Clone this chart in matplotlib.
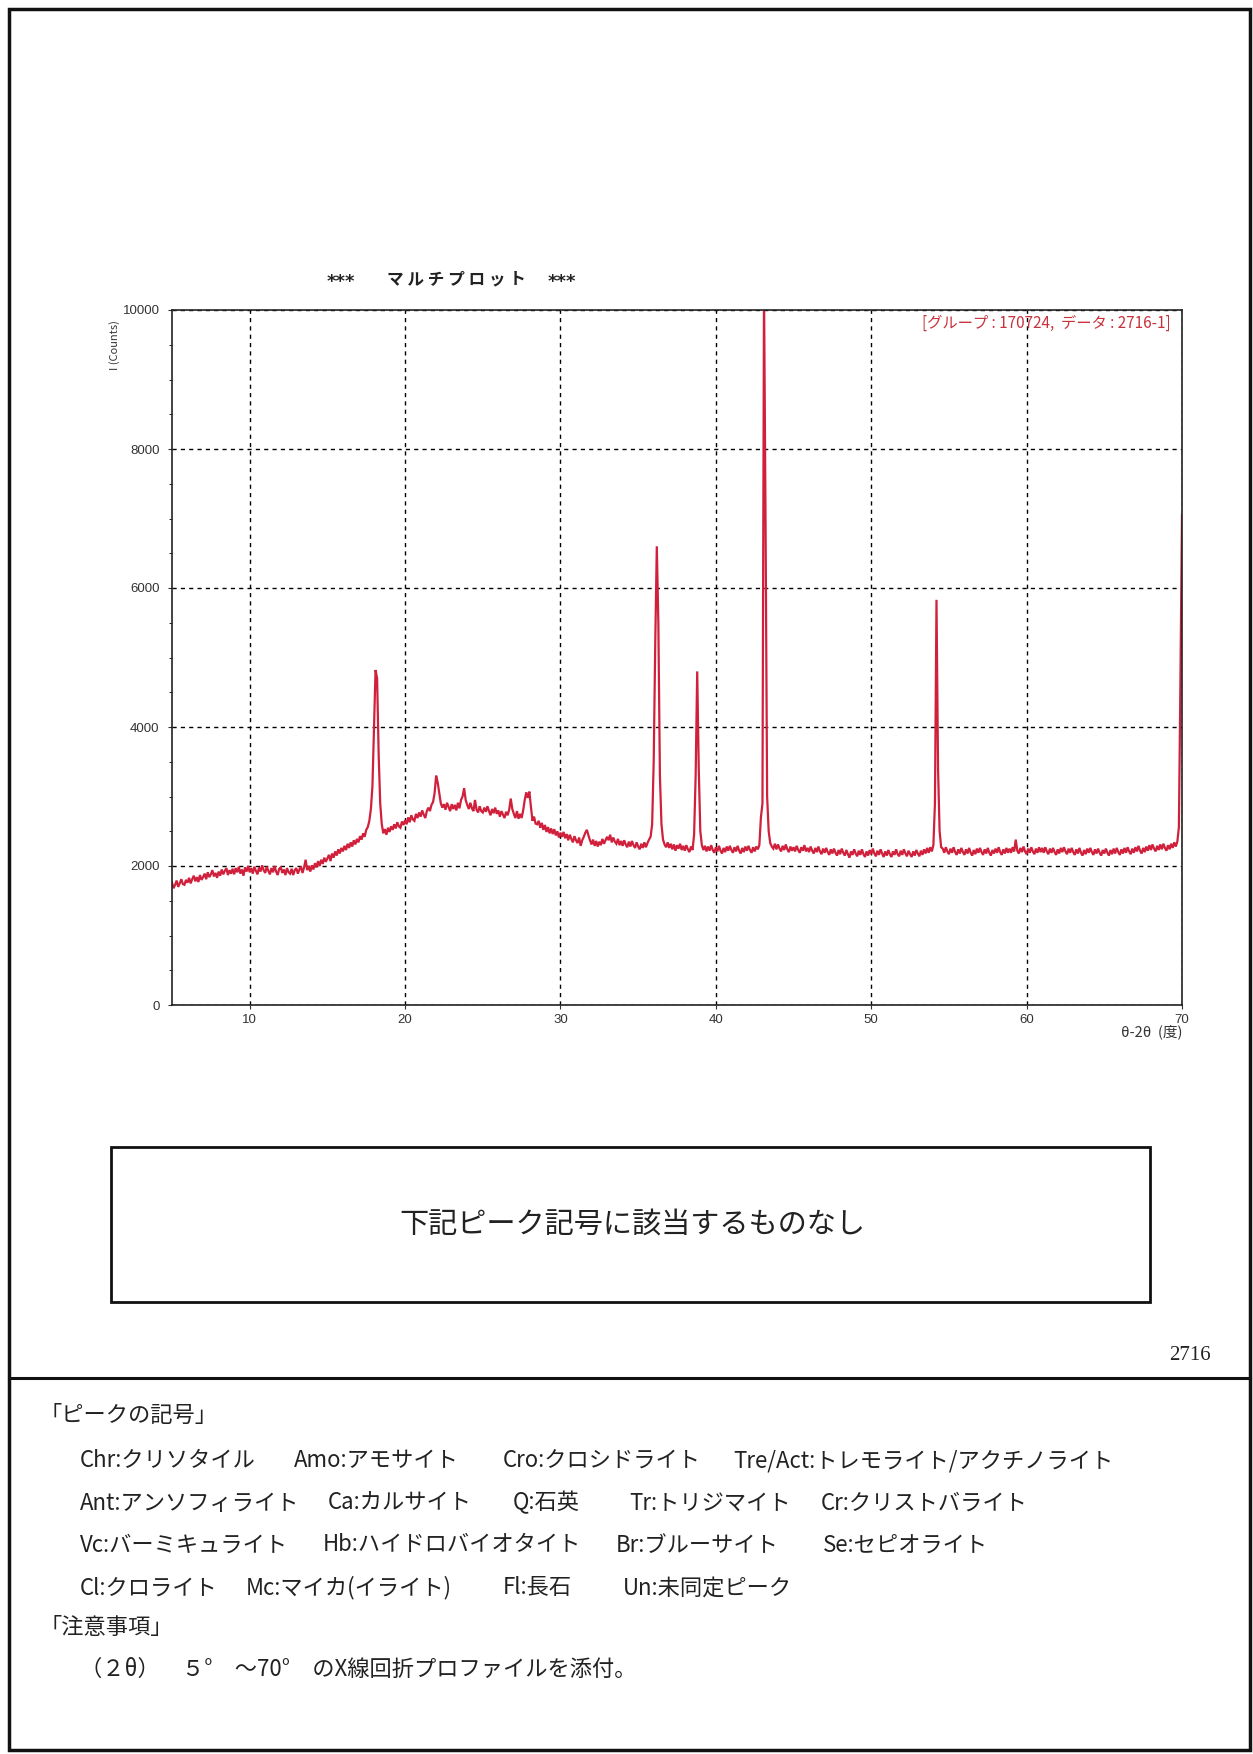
import numpy as np
import matplotlib
matplotlib.use("Agg")
import matplotlib.pyplot as plt
from matplotlib.patches import Rectangle
from matplotlib.lines import Line2D
from matplotlib.ticker import MultipleLocator

plt.rcParams['font.family'] = ['Noto Sans CJK JP', 'DejaVu Sans']

W, H = 1253, 1754

# scan: 5.0 .. 70.0 deg, 0.1 deg step, one row per degree
two_theta_start = 5.0
two_theta_step = 0.1
counts_rows = [
    [1760, 1680, 1730, 1790, 1700, 1750, 1810, 1740, 1730, 1800],  # 5
    [1760, 1830, 1750, 1810, 1860, 1780, 1840, 1770, 1870, 1800],
    [1840, 1890, 1810, 1910, 1840, 1880, 1940, 1850, 1900, 1830],
    [1920, 1860, 1950, 1880, 1930, 1970, 1870, 1940, 1890, 1960],
    [1880, 1970, 1910, 1990, 1890, 1950, 1860, 1980, 1920, 2000],
    [1910, 1970, 1890, 1990, 1930, 1880, 1980, 1920, 2010, 1940],  # 10
    [1900, 1990, 1930, 1880, 1970, 1910, 2000, 1920, 1870, 1960],
    [1980, 1900, 1950, 1870, 1970, 1910, 1890, 1960, 1870, 1940],
    [1970, 1890, 1950, 1990, 1900, 1980, 2090, 1940, 2000, 1920],
    [2010, 1950, 2040, 1980, 2070, 2000, 2090, 2030, 2120, 2060],
    [2110, 2160, 2070, 2180, 2120, 2210, 2150, 2240, 2180, 2260],  # 15
    [2210, 2290, 2230, 2320, 2260, 2340, 2280, 2370, 2310, 2390],
    [2340, 2430, 2380, 2470, 2420, 2520, 2560, 2650, 2820, 3150],
    [4000, 4820, 4700, 3600, 2900, 2600, 2470, 2530, 2450, 2550],
    [2490, 2570, 2520, 2600, 2540, 2630, 2570, 2550, 2640, 2590],
    [2660, 2600, 2700, 2630, 2730, 2670, 2650, 2750, 2690, 2770],  # 20
    [2710, 2800, 2740, 2690, 2790, 2840, 2790, 2880, 2920, 3050],
    [3300, 3200, 3050, 2900, 2840, 2890, 2810, 2910, 2850, 2790],
    [2890, 2820, 2880, 2800, 2910, 2830, 2950, 3000, 3120, 2950],
    [2880, 2820, 2910, 2830, 2790, 2950, 2810, 2770, 2860, 2790],
    [2770, 2840, 2780, 2860, 2790, 2730, 2820, 2760, 2840, 2750],  # 25
    [2800, 2710, 2790, 2740, 2690, 2780, 2730, 2810, 2970, 2820],
    [2750, 2690, 2790, 2680, 2750, 2690, 2800, 2950, 3060, 2980],
    [3070, 2850, 2650, 2710, 2610, 2600, 2650, 2550, 2620, 2520],
    [2590, 2490, 2560, 2470, 2540, 2460, 2530, 2440, 2500, 2410],
    [2480, 2420, 2490, 2400, 2460, 2370, 2450, 2390, 2340, 2430],  # 30
    [2370, 2330, 2410, 2290, 2370, 2420, 2480, 2520, 2440, 2370],
    [2310, 2380, 2290, 2360, 2280, 2350, 2300, 2390, 2320, 2370],
    [2420, 2370, 2450, 2340, 2410, 2350, 2320, 2390, 2300, 2360],
    [2290, 2370, 2310, 2270, 2350, 2280, 2360, 2300, 2260, 2340],
    [2280, 2240, 2320, 2260, 2340, 2270, 2330, 2380, 2420, 2600],  # 35
    [3500, 5200, 6600, 5500, 3300, 2600, 2380, 2310, 2270, 2340],
    [2260, 2320, 2240, 2310, 2220, 2300, 2250, 2320, 2230, 2290],
    [2220, 2300, 2240, 2200, 2280, 2230, 2450, 3300, 4800, 3400],
    [2500, 2300, 2230, 2290, 2210, 2280, 2220, 2300, 2230, 2190],
    [2270, 2210, 2290, 2220, 2180, 2260, 2200, 2280, 2220, 2290],  # 40
    [2230, 2190, 2270, 2210, 2290, 2220, 2180, 2260, 2200, 2280],
    [2220, 2290, 2230, 2190, 2270, 2210, 2280, 2240, 2300, 2700],
    [2900, 10300, 6900, 3000, 2500, 2330, 2280, 2250, 2320, 2240],
    [2310, 2250, 2210, 2290, 2230, 2310, 2240, 2200, 2280, 2220],
    [2270, 2210, 2290, 2230, 2190, 2270, 2220, 2300, 2210, 2260],  # 45
    [2200, 2280, 2220, 2180, 2260, 2200, 2280, 2210, 2170, 2250],
    [2190, 2260, 2200, 2160, 2240, 2180, 2250, 2190, 2150, 2230],
    [2170, 2250, 2190, 2150, 2230, 2170, 2120, 2210, 2160, 2240],
    [2180, 2140, 2220, 2160, 2240, 2170, 2130, 2210, 2150, 2230],
    [2170, 2250, 2180, 2140, 2220, 2160, 2240, 2180, 2130, 2210],  # 50
    [2150, 2230, 2170, 2130, 2210, 2160, 2240, 2170, 2140, 2220],
    [2160, 2240, 2180, 2140, 2220, 2170, 2130, 2210, 2150, 2230],
    [2180, 2140, 2220, 2160, 2240, 2180, 2260, 2190, 2270, 2210],
    [2300, 2900, 5830, 3400, 2500, 2270, 2250, 2190, 2270, 2210],
    [2170, 2250, 2190, 2270, 2200, 2160, 2240, 2180, 2260, 2200],  # 55
    [2160, 2240, 2180, 2260, 2190, 2150, 2230, 2170, 2250, 2190],
    [2260, 2200, 2160, 2240, 2180, 2260, 2190, 2150, 2230, 2180],
    [2250, 2190, 2270, 2200, 2160, 2240, 2180, 2260, 2190, 2250],
    [2190, 2270, 2210, 2380, 2220, 2180, 2260, 2200, 2280, 2210],
    [2170, 2250, 2190, 2270, 2210, 2170, 2250, 2190, 2270, 2200],  # 60
    [2260, 2190, 2270, 2210, 2170, 2250, 2190, 2260, 2200, 2160],
    [2240, 2180, 2260, 2200, 2270, 2210, 2170, 2250, 2190, 2260],
    [2200, 2160, 2240, 2180, 2260, 2190, 2150, 2230, 2170, 2250],
    [2190, 2260, 2200, 2160, 2240, 2180, 2250, 2190, 2150, 2230],
    [2180, 2250, 2190, 2150, 2230, 2170, 2250, 2180, 2260, 2200],  # 65
    [2160, 2240, 2180, 2260, 2190, 2270, 2210, 2170, 2250, 2190],
    [2270, 2210, 2290, 2220, 2180, 2260, 2200, 2280, 2220, 2300],
    [2230, 2310, 2250, 2210, 2290, 2230, 2310, 2240, 2320, 2260],
    [2220, 2300, 2240, 2320, 2260, 2340, 2280, 2350, 2560, 4700],
]
counts_last = [7050]  # 70.0

x_ticks = [10, 20, 30, 40, 50, 60, 70]
y_ticks = [0, 2000, 4000, 6000, 8000, 10000]

title_text = "マ ル チ プ ロ ッ ト"
legend_text = "[グループ : 170724,  データ : 2716-1]"
result_text = "下記ピーク記号に該当するものなし"
page_no = "2716"
peak_rows = [
    ["Chr:クリソタイル", "Amo:アモサイト", "Cro:クロシドライト", "Tre/Act:トレモライト/アクチノライト"],
    ["Ant:アンソフィライト", "Ca:カルサイト", "Q:石英", "Tr:トリジマイト", "Cr:クリストバライト"],
    ["Vc:バーミキュライト", "Hb:ハイドロバイオタイト", "Br:ブルーサイト", "Se:セピオライト"],
    ["Cl:クロライト", "Mc:マイカ(イライト)", "Fl:長石", "Un:未同定ピーク"],
]
note_text = "（２θ）　５°　～70°　のX線回折プロファイルを添付。"

counts = np.array([v for row in counts_rows for v in row] + counts_last, dtype=float)
two_theta = np.round(two_theta_start + two_theta_step * np.arange(len(counts)), 2)


def fx(px):
    return px / W


def fy(py):
    return 1 - py / H


fig = plt.figure(figsize=(W / 100, H / 100), dpi=100)
fig.patch.set_facecolor('white')

# page frame and separator
fig.add_artist(Rectangle((fx(9), fy(1750)), fx(1250) - fx(9), fy(9) - fy(1750),
                         transform=fig.transFigure, fill=False, lw=2.5, ec='#111111'))
fig.add_artist(Line2D([fx(9), fx(1250)], [fy(1378), fy(1378)],
                      transform=fig.transFigure, lw=2.2, color='#111111'))

# main chart
ax_l, ax_r, ax_t, ax_b = 172, 1182, 310, 1005
ax = fig.add_axes([fx(ax_l), fy(ax_b), fx(ax_r) - fx(ax_l), fy(ax_t) - fy(ax_b)])
ax.plot(two_theta, counts, color='#d0203c', lw=1.6, solid_joinstyle='miter')
ax.set_xlim(5, 70)
ax.set_ylim(0, 10000)
ax.set_xticks(x_ticks)
ax.set_yticks(y_ticks)
ax.yaxis.set_minor_locator(MultipleLocator(500))
ax.grid(True, color='black', ls=(0, (3, 3)), lw=1.0)
for s in ax.spines.values():
    s.set_color('#222222')
    s.set_linewidth(1.2)
ax.tick_params(axis='both', labelsize=9.5, colors='#333333', length=3, width=0.8,
               direction='out')
ax.tick_params(axis='y', pad=6)
ax.tick_params(axis='y', which='minor', length=2, width=0.6)
for lab in ax.get_xticklabels() + ax.get_yticklabels():
    lab.set_family('Liberation Sans')

fig.text(fx(1152), fy(1032), "θ-2θ  (度)", ha='center', va='center', fontsize=10.5,
         color='#333333')
ax.text(0.989, 0.993, legend_text, transform=ax.transAxes, ha='right', va='top',
        fontsize=11, color='#c8323c')

fig.text(fx(115), fy(345), "I (Counts)", rotation=90, ha='center', va='center',
         fontsize=8, color='#333333')
# title
fig.text(fx(341), fy(282), "***", ha='center', va='center', fontsize=13,
         fontweight='bold', family='DejaVu Sans', color='#222222')
fig.text(fx(456), fy(279), title_text, ha='center', va='center', fontsize=12,
         fontweight='bold', color='#222222')
fig.text(fx(562), fy(282), "***", ha='center', va='center', fontsize=13,
         fontweight='bold', family='DejaVu Sans', color='#222222')

# result box
fig.add_artist(Rectangle((fx(111), fy(1302)), fx(1150) - fx(111), fy(1147) - fy(1302),
                         transform=fig.transFigure, fill=False, lw=2.0, ec='#111111'))
fig.text(fx(632), fy(1225), result_text, ha='center', va='center', fontsize=21,
         color='#222222')
fig.text(fx(1211), fy(1356), page_no, ha='right', va='center', fontsize=15,
         family='Liberation Serif', color='#222222')

# peak symbol legend
row_x = [
    [80, 294, 503, 733],
    [80, 328, 513, 629, 821],
    [80, 323, 616, 823],
    [80, 246, 503, 623],
]
row_y = [1461, 1503, 1545, 1588]
fig.text(fx(40), fy(1415), "「ピークの記号」", ha='left', va='center', fontsize=16,
         color='#222222')
for items, xs, y in zip(peak_rows, row_x, row_y):
    for item, x in zip(items, xs):
        fig.text(fx(x), fy(y), item, ha='left', va='center', fontsize=16,
                 color='#222222')
fig.text(fx(40), fy(1628), "「注意事項」", ha='left', va='center', fontsize=16,
         color='#222222')
fig.text(fx(80), fy(1669), note_text, ha='left', va='center', fontsize=16,
         color='#222222')

fig.savefig("out.png", dpi=100, facecolor='white')
